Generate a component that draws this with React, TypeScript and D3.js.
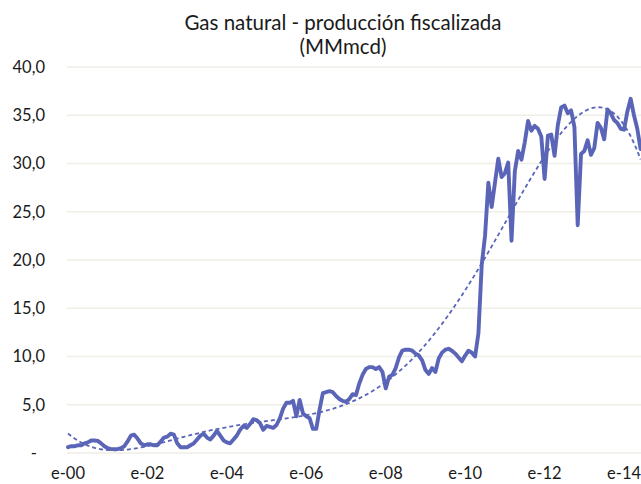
import React from 'react';
import * as d3 from 'd3';

// monthly production, Jan 2000 onwards (MMmcd)
const production = [
  0.6, 0.7, 0.7, 0.8, 0.8, 1.0, 1.1, 1.3, 1.3, 1.25, 1.0, 0.7,
  0.5, 0.4, 0.4, 0.4, 0.5, 0.7, 1.2, 1.8, 1.9, 1.5, 1.0, 0.8,
  0.9, 0.9, 0.8, 0.8, 1.2, 1.6, 1.7, 2.0, 1.9, 1.0, 0.6, 0.6,
  0.6, 0.8, 1.0, 1.4, 1.8, 2.0, 1.6, 1.4, 1.8, 2.3, 1.8, 1.3,
  1.1, 1.0, 1.4, 1.8, 2.4, 2.8, 2.6, 3.0, 3.5, 3.4, 3.1, 2.4,
  2.8, 2.7, 2.6, 2.9, 3.6, 4.6, 5.2, 5.2, 5.4, 3.8, 5.5, 4.1,
  3.8, 3.6, 2.5, 2.5, 4.5, 6.2, 6.3, 6.4, 6.3, 5.9, 5.6, 5.4,
  5.3, 5.6, 6.1, 6.0, 7.2, 8.1, 8.7, 8.9, 8.9, 8.7, 8.9, 8.4,
  6.7, 7.9, 8.1, 8.8, 9.9, 10.6, 10.7, 10.7, 10.6, 10.3, 10.1, 9.6,
  8.6, 8.2, 8.8, 8.4, 9.8, 10.4, 10.7, 10.8, 10.6, 10.3, 9.9, 9.5,
  10.1, 10.6, 10.4, 10.0, 12.4, 19.5, 22.5, 28.0, 25.5, 28.0, 30.5, 28.6,
  29.0, 30.1, 22.0, 29.2, 31.3, 30.4, 32.2, 34.4, 33.4, 33.9, 33.6, 32.8,
  28.4, 32.9, 33.0, 30.8, 34.0, 35.8, 36.0, 35.2, 35.5, 33.8, 23.6, 31.0,
  31.3, 32.4, 30.9, 31.6, 34.2, 33.7, 32.5, 35.6, 35.2, 34.5, 34.2, 33.6,
  33.5, 35.4, 36.7, 35.0, 33.6, 31.5,
];

const xTickLabels = ['e-00', 'e-02', 'e-04', 'e-06', 'e-08', 'e-10', 'e-12', 'e-14'];
const yTicks = [0, 5, 10, 15, 20, 25, 30, 35, 40];
const yTickLabels = ['-', '5,0', '10,0', '15,0', '20,0', '25,0', '30,0', '35,0', '40,0'];
const titleLines = ['Gas natural - producción fiscalizada', '(MMmcd)'];

const TREND_ORDER = 6;

// least squares polynomial fit (like an Excel polynomial trendline)
function polyFit(ys: number[], order: number) {
  const n = ys.length;
  const ts = ys.map((_, i) => (2 * i) / (n - 1) - 1);
  const m = order + 1;
  const A: number[][] = [];
  for (let r = 0; r < m; r++) {
    A.push(new Array(m + 1).fill(0));
    for (let c = 0; c < m; c++) {
      A[r][c] = d3.sum(ts, (t) => Math.pow(t, r + c));
    }
    A[r][m] = d3.sum(ts, (t, i) => ys[i] * Math.pow(t, r));
  }
  for (let p = 0; p < m; p++) {
    let best = p;
    for (let r = p + 1; r < m; r++) if (Math.abs(A[r][p]) > Math.abs(A[best][p])) best = r;
    [A[p], A[best]] = [A[best], A[p]];
    for (let r = 0; r < m; r++) {
      if (r === p) continue;
      const f = A[r][p] / A[p][p];
      for (let c = p; c <= m; c++) A[r][c] -= f * A[p][c];
    }
  }
  const coef = A.map((row, i) => row[m] / row[i]);
  return ts.map((t) => coef.reduce((s, k, j) => s + k * Math.pow(t, j), 0));
}

const App = () => {
  const width = 641;
  const height = 484;

  const x = d3.scaleLinear().domain([0, 173]).range([68, 640.6]);
  const y = d3.scaleLinear().domain([0, 40]).range([453, 67]);

  const trend = polyFit(production, TREND_ORDER);

  const line = d3
    .line<number>()
    .x((_, i) => x(i))
    .y((d) => y(d));

  const color = '#5A65B8';
  const font = 'Lato, Calibri, "Open Sans", sans-serif';

  return (
    <svg
      width={width}
      height={height}
      style={{ position: 'absolute', left: 0, top: 0, background: '#fff' }}
      fontFamily={font}
    >
      {yTicks.map((t) => (
        <line key={t} x1={67} x2={width} y1={y(t)} y2={y(t)} stroke="#EEEDE6" strokeWidth={1.5} />
      ))}
      {yTicks.map((t, i) => (
        <text
          key={'l' + t}
          x={t === 0 ? 37 : 45}
          y={y(t)}
          dy="0.36em"
          textAnchor="end"
          fontSize={16.5}
          fill="#1a1a1a"
        >
          {yTickLabels[i]}
        </text>
      ))}
      {xTickLabels.map((lab, i) => (
        <text key={lab} x={x(i * 24)} y={479} textAnchor="middle" fontSize={16.5} fill="#1a1a1a">
          {lab}
        </text>
      ))}
      <path
        d={line(trend) || ''}
        fill="none"
        stroke={color}
        strokeWidth={1.8}
        strokeDasharray="4 3"
      />
      <path
        d={line(production) || ''}
        fill="none"
        stroke={color}
        strokeWidth={3.9}
        strokeLinejoin="round"
        strokeLinecap="round"
      />
      {titleLines.map((t, i) => (
        <text key={t} x={343} y={30 + i * 24} textAnchor="middle" fontSize={20.5} fill="#1a1a1a">
          {t}
        </text>
      ))}
    </svg>
  );
};

export default App;
